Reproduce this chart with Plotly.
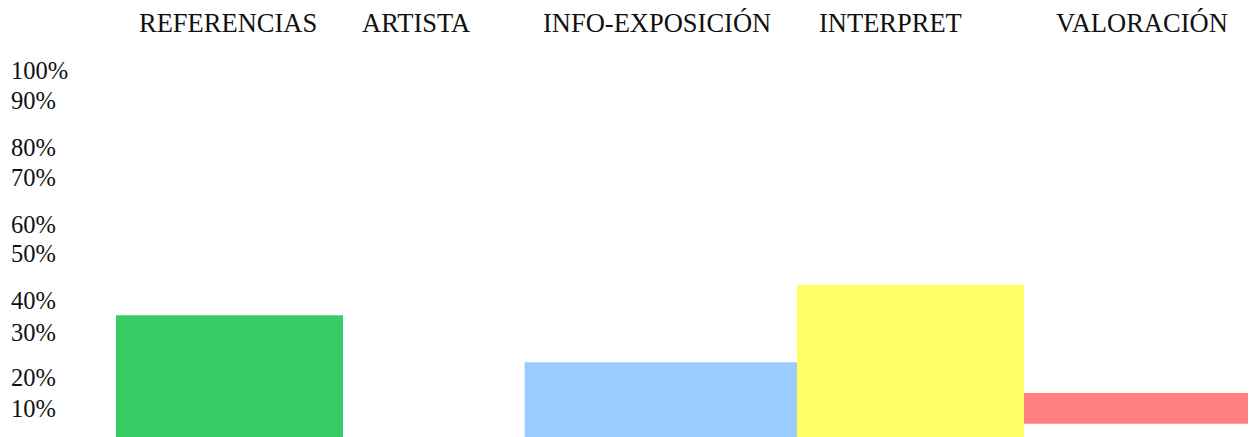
import plotly.graph_objects as go

categories = ["REFERENCIAS", "ARTISTA", "INFO-EXPOSICIÓN", "INTERPRET", "VALORACIÓN"]
values = [33.2, 0, 20.4, 41.4, 8.4]
bases = [0, 0, 0, 0, 3.6]
bar_colors = ["#37CD64", "#FFFFFF", "#9BCCFF", "#FFFF66", "#FF8080"]

tick_labels = ["100%", "90%", "80%", "70%", "60%", "50%", "40%", "30%", "20%", "10%"]
tick_values = [100.0, 91.6, 79.0, 70.8, 58.0, 49.9, 37.1, 28.6, 16.1, 7.9]

# bar geometry (category units) and label nudges (px)
bar_widths = [1.0, 1.0, 1.2, 1.0, 1.012]
bar_offsets = [-0.5, -0.5, -0.7, -0.5, -0.5]
label_shifts = [-2, -41, -27, -20, 4]

FONT = "Liberation Serif, Times New Roman, serif"

fig = go.Figure(go.Bar(
    x=categories,
    y=values,
    base=bases,
    width=bar_widths,
    offset=bar_offsets,
    marker=dict(color=bar_colors, line=dict(width=0)),
    hoverinfo="skip",
))

# category names along the top
for cat, shift in zip(categories, label_shifts):
    fig.add_annotation(
        x=cat, y=1, xref="x", yref="paper",
        text=cat, showarrow=False,
        xshift=shift, yshift=47, yanchor="middle",
        font=dict(family=FONT, size=26.5, color="#111111"),
    )

# left-aligned percentage labels
for lab, val in zip(tick_labels, tick_values):
    fig.add_annotation(
        x=0, y=val, xref="paper", yref="y",
        text=lab, showarrow=False,
        xanchor="left", yanchor="middle", xshift=-107,
        font=dict(family=FONT, size=24.5, color="#111111"),
    )

# page body adds an 8px margin, so the figure is offset by that much
fig.update_layout(
    width=1256,
    height=437,
    margin=dict(l=108, r=13, t=62, b=8),
    paper_bgcolor="white",
    plot_bgcolor="white",
    showlegend=False,
    xaxis=dict(visible=False, range=[-0.5, 4.5], type="category"),
    yaxis=dict(visible=False, range=[0, 100]),
)

fig.write_html("out.html")
